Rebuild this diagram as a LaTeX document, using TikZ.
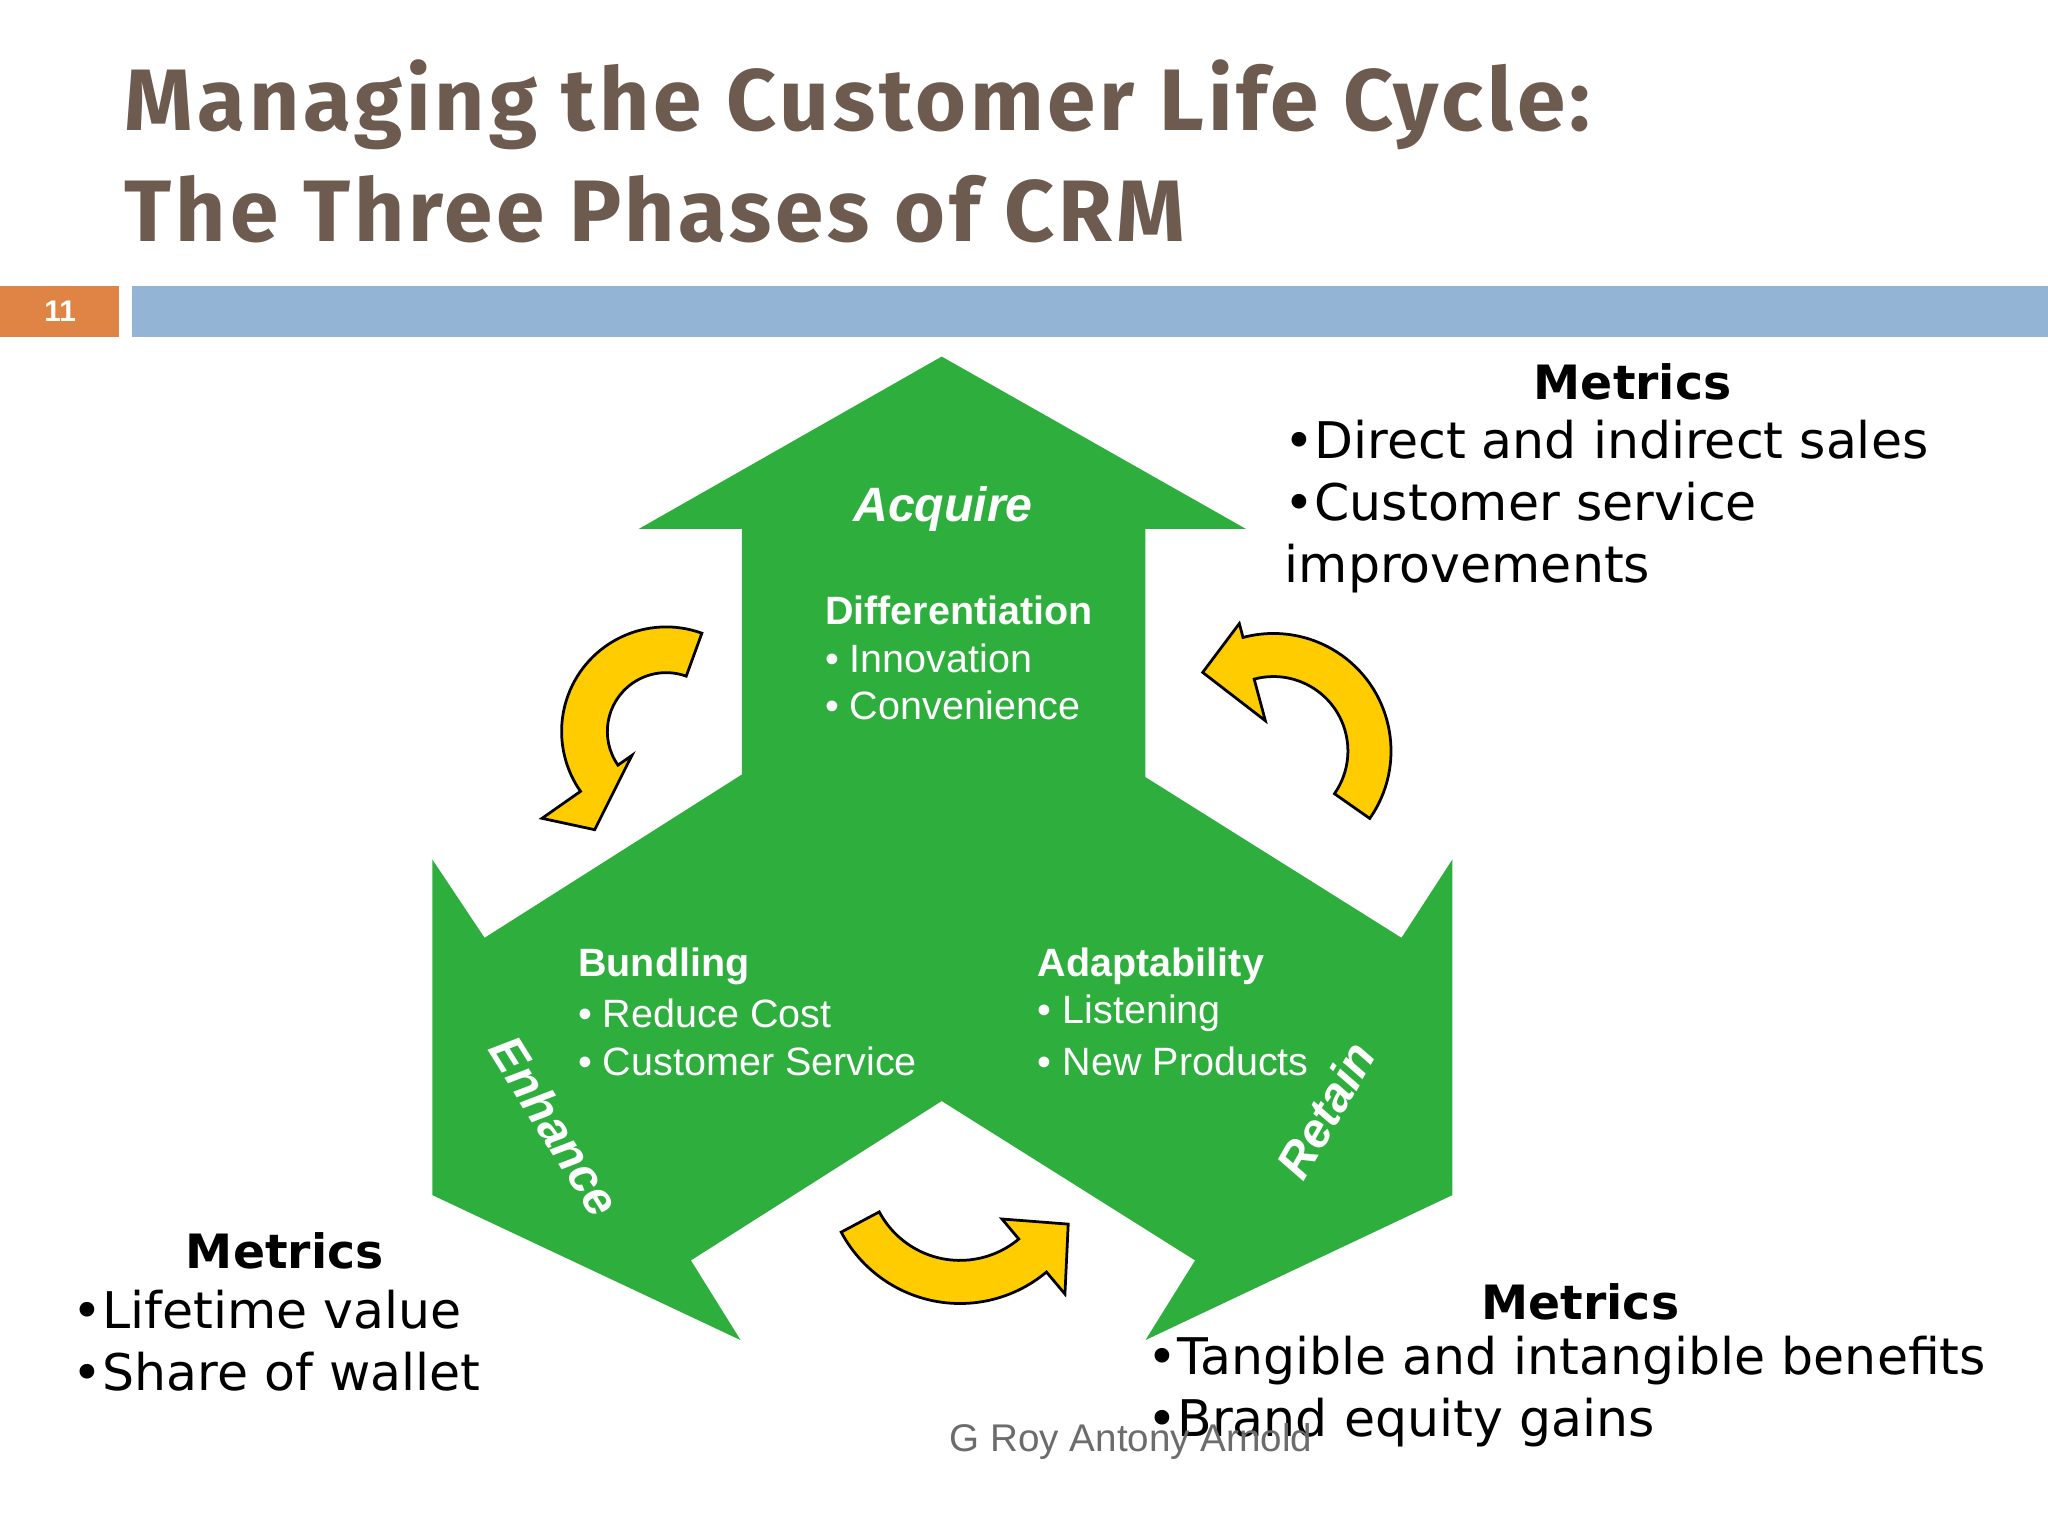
\documentclass[tikz,border=0pt]{standalone}
\usepackage{fontspec}
\setmainfont{Liberation Sans}
\newfontfamily\vfont{DejaVu Sans}
\newfontfamily\tfont[LetterSpace=4.5]{Fira Sans}
\definecolor{grn}{HTML}{2DAE3D}
\definecolor{yel}{HTML}{FFCC00}
\definecolor{ttl}{HTML}{6E5B50}
\definecolor{bar}{HTML}{93B4D4}
\definecolor{org}{HTML}{DF8444}
\newcommand\carrow[8]{% a1 a2 ri ro hi ho a3 rt
 \draw[yarr] (#1:#4) arc[start angle=#1,end angle=#2,radius=#4] -- (#2:#6) -- (#7:#8) -- (#2:#5) -- (#2:#3) arc[start angle=#2,end angle=#1,radius=#3] -- cycle;}
\begin{document}
\begin{tikzpicture}[x=0.01cm,y=0.01cm,
 yarr/.style={fill=yel,draw=black,line width=0.6pt,line join=miter},
 lab/.style={text=white,font=\fontsize{8.6}{10}\selectfont,anchor=west,inner sep=0},
 head/.style={text=white,font=\bfseries\fontsize{8.6}{10}\selectfont,anchor=west,inner sep=0},
 met/.style={font=\vfont\fontsize{11}{13}\selectfont,anchor=west,inner sep=0},
 mh/.style={font=\vfont\bfseries\fontsize{10.3}{13}\selectfont,inner sep=0},
 arm/.style={text=white,font=\bfseries\itshape\fontsize{10.5}{12}\selectfont,inner sep=0}]
\useasboundingbox[fill=white] (0,0) rectangle (1568,-1176);
% title
\node[anchor=base west,inner sep=0,text=ttl,font=\tfont\bfseries\fontsize{19}{24}\selectfont] (t1) at (95,-100) {Managing the Customer Life Cycle:};
\node[anchor=base west,inner sep=0,text=ttl,font=\tfont\bfseries\fontsize{19}{24}\selectfont] (t2) at (95,-185) {The Three Phases of CRM};
\fill[org] (0,-219) rectangle (91,-258);
\node[text=white,font=\bfseries\fontsize{6.5}{8}\selectfont] (num) at (46,-238) {11};
\fill[bar] (101,-219) rectangle (1568,-258);
% green shape
\fill[grn] (721,-273) -- (954,-405) -- (877,-405) -- (877,-595) -- (1073,-718) -- (1112,-658) -- (1112,-915) -- (877,-1026) -- (915,-965) -- (721,-843) -- (529,-965) -- (567,-1026) -- (331,-915) -- (331,-658) -- (371,-718) -- (568,-593) -- (568,-405) -- (489,-405) -- cycle;
% yellow arrows
\begin{scope}[shift={(510,-560)}]\carrow{70}{215}{45}{80}{32}{116}{234}{93}\end{scope}
\begin{scope}[shift={(975,-575)}]\carrow{-35}{105}{57}{90}{24}{101}{132}{81}\end{scope}
\begin{scope}[shift={(735,-895)}]\carrow{208}{310}{70}{103}{50}{125}{333}{93}\end{scope}
% labels
\node[arm] (acq) at (722,-390) {Acquire};
\node[arm,rotate=-58] (enh) at (425,-862) {Enhance};
\node[arm,rotate=60] (ret) at (1015,-850) {Retain};
\node[head] (d0) at (631,-467) {Differentiation};
\node[lab] (d1) at (631,-504) {• Innovation};
\node[lab] (d2) at (631,-540) {• Convenience};
\node[head] (b0) at (442,-740) {Bundling};
\node[lab] (b1) at (442,-776) {• Reduce Cost};
\node[lab] (b2) at (442,-813) {• Customer Service};
\node[head] (a0) at (794,-740) {Adaptability};
\node[lab] (a1) at (794,-776) {• Listening};
\node[lab] (a2) at (794,-813) {• New Products};
% metrics
\node[mh] (m1) at (1250,-292) {Metrics};
\node[met] (m1a) at (983,-337) {•Direct and indirect sales};
\node[met] (m1b) at (983,-384) {•Customer service};
\node[met] (m1c) at (983,-435) {improvements};
\node[mh] (m2) at (218,-958) {Metrics};
\node[met] (m2a) at (55,-1003) {•Lifetime value};
\node[met] (m2b) at (55,-1050) {•Share of wallet};
\node[mh] (m3) at (1210,-997) {Metrics};
\node[met] (m3a) at (878,-1042) {•Tangible and intangible benefits};
\node[met] (m3b) at (878,-1089) {•Brand equity gains};
\node[text=gray!85!black,font=\fontsize{8.4}{10}\selectfont,inner sep=0] (ft) at (866,-1104) {G Roy Antony Arnold};
\end{tikzpicture}
\end{document}
